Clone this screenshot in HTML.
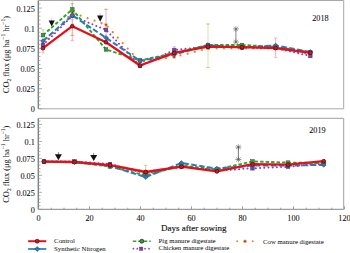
<!DOCTYPE html>
<html><head><meta charset="utf-8"><style>
html,body{margin:0;padding:0;background:#fff;}
svg{display:block;}
.t{font-family:"Liberation Serif",serif;font-size:8.2px;fill:#111;stroke:#111;stroke-width:0.08px;}
.t9{font-family:"Liberation Serif",serif;font-size:9px;fill:#111;stroke:#111;stroke-width:0.15px;}
.ty{font-family:"Liberation Serif",serif;font-size:8.4px;fill:#222;stroke:#222;stroke-width:0.05px;}
.tl{font-family:"Liberation Serif",serif;font-size:6.8px;fill:#1a1a1a;stroke:#1a1a1a;stroke-width:0.04px;}
</style></head><body>
<svg width="350" height="253" viewBox="0 0 350 253">
<path d="M38.5,0.5 H343.7 V108.8 H38.5" fill="none" stroke="#a8a8a8" stroke-width="1"/>
<path d="M38.5,118.3 H343.7 V209.3" fill="none" stroke="#a0a0a0" stroke-width="1"/>
<path d="M343.7,209.3 H38.5" fill="none" stroke="#858585" stroke-width="1"/>
<path d="M38.3,0.5 V108.8 M38.3,118.3 V209.3" fill="none" stroke="#808080" stroke-width="1.4"/>
<path d="M38.5,108.80h3.5M38.5,104.77h2M38.5,100.74h2M38.5,96.71h2M38.5,92.68h2M38.5,88.65h3.5M38.5,84.62h2M38.5,80.59h2M38.5,76.56h2M38.5,72.53h2M38.5,68.50h3.5M38.5,64.47h2M38.5,60.44h2M38.5,56.41h2M38.5,52.38h2M38.5,48.35h3.5M38.5,44.32h2M38.5,40.29h2M38.5,36.26h2M38.5,32.23h2M38.5,28.20h3.5M38.5,24.17h2M38.5,20.14h2M38.5,16.11h2M38.5,12.08h2M38.5,8.05h3.5M38.5,4.02h2" stroke="#999" stroke-width="0.8" fill="none"/>
<text x="34.8" y="112.30" text-anchor="end" class="t">0</text>
<text x="34.8" y="92.15" text-anchor="end" class="t">0.025</text>
<text x="34.8" y="72.00" text-anchor="end" class="t">0.05</text>
<text x="34.8" y="51.85" text-anchor="end" class="t">0.075</text>
<text x="34.8" y="31.70" text-anchor="end" class="t">0.1</text>
<text x="34.8" y="11.55" text-anchor="end" class="t">0.125</text>
<path d="M38.5,209.30h3.5M38.5,205.91h2M38.5,202.51h2M38.5,199.12h2M38.5,195.72h2M38.5,192.33h3.5M38.5,188.93h2M38.5,185.54h2M38.5,182.14h2M38.5,178.75h2M38.5,175.35h3.5M38.5,171.96h2M38.5,168.56h2M38.5,165.17h2M38.5,161.77h2M38.5,158.38h3.5M38.5,154.98h2M38.5,151.59h2M38.5,148.19h2M38.5,144.80h2M38.5,141.40h3.5M38.5,138.00h2M38.5,134.61h2M38.5,131.22h2M38.5,127.82h2M38.5,124.43h3.5M38.5,121.03h2" stroke="#999" stroke-width="0.8" fill="none"/>
<text x="34.8" y="212.80" text-anchor="end" class="t">0</text>
<text x="34.8" y="195.83" text-anchor="end" class="t">0.025</text>
<text x="34.8" y="178.85" text-anchor="end" class="t">0.05</text>
<text x="34.8" y="161.88" text-anchor="end" class="t">0.075</text>
<text x="34.8" y="144.90" text-anchor="end" class="t">0.1</text>
<text x="34.8" y="127.93" text-anchor="end" class="t">0.125</text>
<path d="M38.50,209.3v-3M51.25,209.3v-1.6M64.00,209.3v-1.6M76.75,209.3v-1.6M89.50,209.3v-3M102.25,209.3v-1.6M115.00,209.3v-1.6M127.75,209.3v-1.6M140.50,209.3v-3M153.25,209.3v-1.6M166.00,209.3v-1.6M178.75,209.3v-1.6M191.50,209.3v-3M204.25,209.3v-1.6M217.00,209.3v-1.6M229.75,209.3v-1.6M242.50,209.3v-3M255.25,209.3v-1.6M268.00,209.3v-1.6M280.75,209.3v-1.6M293.50,209.3v-3M306.25,209.3v-1.6M319.00,209.3v-1.6M331.75,209.3v-1.6M344.50,209.3v-3" stroke="#8a8a8a" stroke-width="0.8" fill="none"/>
<text x="38.50" y="220.8" text-anchor="middle" class="t">0</text>
<text x="89.50" y="220.8" text-anchor="middle" class="t">20</text>
<text x="140.50" y="220.8" text-anchor="middle" class="t">40</text>
<text x="191.50" y="220.8" text-anchor="middle" class="t">60</text>
<text x="242.50" y="220.8" text-anchor="middle" class="t">80</text>
<text x="293.50" y="220.8" text-anchor="middle" class="t">100</text>
<text x="344.50" y="220.8" text-anchor="middle" class="t">120</text>
<text x="193.7" y="231.1" text-anchor="middle" class="t9">Days after sowing</text>
<text x="328.6" y="20.9" text-anchor="end" class="t">2018</text>
<text x="325.6" y="132.6" text-anchor="end" class="t">2019</text>
<text transform="translate(9.2,54.6) rotate(-90)" text-anchor="middle" class="ty">CO<tspan font-size="5.5" dy="2">2</tspan><tspan dy="-2"> flux (μg ha</tspan><tspan font-size="5.5" dy="-3.8">−1</tspan><tspan dy="3.8"> hr</tspan><tspan font-size="5.5" dy="-3.8">−1</tspan><tspan dy="3.8">)</tspan></text>
<text transform="translate(9.2,164.2) rotate(-90)" text-anchor="middle" class="ty">CO<tspan font-size="5.5" dy="2">2</tspan><tspan dy="-2"> flux (μg ha</tspan><tspan font-size="5.5" dy="-3.8">−1</tspan><tspan dy="3.8"> hr</tspan><tspan font-size="5.5" dy="-3.8">−1</tspan><tspan dy="3.8">)</tspan></text>
<path d="M43,29.8V35.0M41.5,29.8h3M41.5,35.0h3" stroke="#9c9" stroke-width="0.8" fill="none"/>
<path d="M43,45V53.0M41.5,45h3M41.5,53.0h3" stroke="#f9a" stroke-width="0.8" fill="none"/>
<path d="M72.3,0.5V35.4" stroke="#f5c890" stroke-width="0.8" fill="none"/>
<path d="M72.3,3.5V9.4M70.8,3.5h3M70.8,9.4h3" stroke="#aaa" stroke-width="0.8" fill="none"/>
<path d="M72.3,19.8V40.5M70.8,19.8h3M70.8,40.5h3" stroke="#f9a" stroke-width="0.8" fill="none"/>
<path d="M72.3,35.4V35.4M70.8,35.4h3M70.8,35.4h3" stroke="#f0a040" stroke-width="0.8" fill="none"/>
<path d="M106,9.3V36.7" stroke="#d9c" stroke-width="0.8" fill="none"/>
<path d="M106,9.3V9.3M104.5,9.3h3M104.5,9.3h3" stroke="#f0a040" stroke-width="0.8" fill="none"/>
<path d="M208,24V67.6" stroke="#c8dca0" stroke-width="0.8" fill="none"/>
<path d="M208,24V24M206.5,24h3M206.5,24h3" stroke="#a8d0a0" stroke-width="0.8" fill="none"/>
<path d="M208,67.6V67.6M206.5,67.6h3M206.5,67.6h3" stroke="#f0b080" stroke-width="0.8" fill="none"/>
<path d="M235.9,28.9V42" stroke="#666" stroke-width="0.8" fill="none"/>
<path d="M232.9,28.9h6M235.9,26.099999999999998v5.6M233.6,26.9l4.6,4M233.6,30.9l4.6,-4" stroke="#666" stroke-width="0.6"/><circle cx="235.9" cy="28.9" r="0.7" fill="#666"/>
<path d="M232.9,42h6M235.9,39.2v5.6M233.6,40l4.6,4M233.6,44l4.6,-4" stroke="#666" stroke-width="0.6"/><circle cx="235.9" cy="42" r="0.7" fill="#666"/>
<path d="M275.6,38V57.4M274.1,38h3M274.1,57.4h3" stroke="#f9b" stroke-width="0.8" fill="none"/>
<path d="M140,62V68" stroke="#f9a" stroke-width="0.8" fill="none"/>
<path d="M174.3,46.8V56M172.8,46.8h3M172.8,56h3" stroke="#c9e" stroke-width="0.8" fill="none"/>
<path d="M58.4,152.2V155" stroke="#555" stroke-width="0.8" fill="none"/>
<path d="M93.7,153.2V155.5" stroke="#555" stroke-width="0.8" fill="none"/>
<path d="M51.7,18.4V21" stroke="#bbb" stroke-width="0.8" fill="none"/>
<path d="M100.2,13.5V16" stroke="#bbb" stroke-width="0.8" fill="none"/>
<path d="M145.7,165.4V176M144.2,165.4h3M144.2,176h3" stroke="#f0b070" stroke-width="0.8" fill="none"/>
<path d="M238.4,147.1V159.5" stroke="#555" stroke-width="0.8" fill="none"/>
<path d="M235.4,147.1h6M238.4,144.29999999999998v5.6M236.1,145.1l4.6,4M236.1,149.1l4.6,-4" stroke="#555" stroke-width="0.6"/><circle cx="238.4" cy="147.1" r="0.7" fill="#555"/>
<path d="M235.4,159.5h6M238.4,156.7v5.6M236.1,157.5l4.6,4M236.1,161.5l4.6,-4" stroke="#555" stroke-width="0.6"/><circle cx="238.4" cy="159.5" r="0.7" fill="#555"/>
<polyline points="43.0,44.0 72.3,12.6 106.0,24.8 140.0,62.0 174.3,57.0 208.0,48.5 242.0,48.5 275.6,48.5 310.3,54.0" fill="none" stroke="#f0801a" stroke-width="2.2" stroke-dasharray="0,7.4" stroke-linecap="round" stroke-linejoin="round"/>
<path d="M41.30,44.0h3.40M43,42.30v3.40M41.80,42.80l2.40,2.40M41.80,45.20l2.40,-2.40" stroke="#f0801a" stroke-width="1"/>
<circle cx="43" cy="44.0" r="0.80" fill="#733"/>
<path d="M70.60,12.6h3.40M72.3,10.90v3.40M71.10,11.40l2.40,2.40M71.10,13.80l2.40,-2.40" stroke="#f0801a" stroke-width="1"/>
<circle cx="72.3" cy="12.6" r="0.80" fill="#733"/>
<path d="M104.30,24.8h3.40M106,23.10v3.40M104.80,23.60l2.40,2.40M104.80,26.00l2.40,-2.40" stroke="#f0801a" stroke-width="1"/>
<circle cx="106" cy="24.8" r="0.80" fill="#733"/>
<path d="M138.30,62.0h3.40M140,60.30v3.40M138.80,60.80l2.40,2.40M138.80,63.20l2.40,-2.40" stroke="#f0801a" stroke-width="1"/>
<circle cx="140" cy="62.0" r="0.80" fill="#733"/>
<path d="M172.60,57.0h3.40M174.3,55.30v3.40M173.10,55.80l2.40,2.40M173.10,58.20l2.40,-2.40" stroke="#f0801a" stroke-width="1"/>
<circle cx="174.3" cy="57.0" r="0.80" fill="#733"/>
<path d="M206.30,48.5h3.40M208,46.80v3.40M206.80,47.30l2.40,2.40M206.80,49.70l2.40,-2.40" stroke="#f0801a" stroke-width="1"/>
<circle cx="208" cy="48.5" r="0.80" fill="#733"/>
<path d="M240.30,48.5h3.40M242,46.80v3.40M240.80,47.30l2.40,2.40M240.80,49.70l2.40,-2.40" stroke="#f0801a" stroke-width="1"/>
<circle cx="242" cy="48.5" r="0.80" fill="#733"/>
<path d="M273.90,48.5h3.40M275.6,46.80v3.40M274.40,47.30l2.40,2.40M274.40,49.70l2.40,-2.40" stroke="#f0801a" stroke-width="1"/>
<circle cx="275.6" cy="48.5" r="0.80" fill="#733"/>
<path d="M308.60,54.0h3.40M310.3,52.30v3.40M309.10,52.80l2.40,2.40M309.10,55.20l2.40,-2.40" stroke="#f0801a" stroke-width="1"/>
<circle cx="310.3" cy="54.0" r="0.80" fill="#733"/>
<polyline points="43.0,45.0 72.3,16.0 106.0,29.9 140.0,66.0 174.3,50.0 208.0,46.5 242.0,47.5 275.6,48.0 310.3,56.0" fill="none" stroke="#7f3cc0" stroke-width="2.0" stroke-dasharray="0,4.2" stroke-linecap="round" stroke-linejoin="round"/>
<rect x="41.20" y="43.20" width="3.60" height="3.60" fill="#7f3cc0" stroke="#444" stroke-width="0.5"/>
<rect x="70.50" y="14.20" width="3.60" height="3.60" fill="#7f3cc0" stroke="#444" stroke-width="0.5"/>
<rect x="104.20" y="28.10" width="3.60" height="3.60" fill="#7f3cc0" stroke="#444" stroke-width="0.5"/>
<rect x="138.20" y="64.20" width="3.60" height="3.60" fill="#7f3cc0" stroke="#444" stroke-width="0.5"/>
<rect x="172.50" y="48.20" width="3.60" height="3.60" fill="#7f3cc0" stroke="#444" stroke-width="0.5"/>
<rect x="206.20" y="44.70" width="3.60" height="3.60" fill="#7f3cc0" stroke="#444" stroke-width="0.5"/>
<rect x="240.20" y="45.70" width="3.60" height="3.60" fill="#7f3cc0" stroke="#444" stroke-width="0.5"/>
<rect x="273.80" y="46.20" width="3.60" height="3.60" fill="#7f3cc0" stroke="#444" stroke-width="0.5"/>
<rect x="308.50" y="54.20" width="3.60" height="3.60" fill="#7f3cc0" stroke="#444" stroke-width="0.5"/>
<polyline points="43.0,35.2 72.3,9.4 106.0,49.5 140.0,60.5 174.3,53.0 208.0,45.0 242.0,45.0 275.6,46.8 310.3,52.3" fill="none" stroke="#2aa52a" stroke-width="1.9" stroke-dasharray="3.5,2" stroke-linejoin="round"/>
<rect x="41.20" y="33.40" width="3.60" height="3.60" fill="#2aa52a" stroke="#444" stroke-width="0.5"/>
<rect x="70.50" y="7.60" width="3.60" height="3.60" fill="#2aa52a" stroke="#444" stroke-width="0.5"/>
<rect x="104.20" y="47.70" width="3.60" height="3.60" fill="#2aa52a" stroke="#444" stroke-width="0.5"/>
<rect x="138.20" y="58.70" width="3.60" height="3.60" fill="#2aa52a" stroke="#444" stroke-width="0.5"/>
<rect x="172.50" y="51.20" width="3.60" height="3.60" fill="#2aa52a" stroke="#444" stroke-width="0.5"/>
<rect x="206.20" y="43.20" width="3.60" height="3.60" fill="#2aa52a" stroke="#444" stroke-width="0.5"/>
<rect x="240.20" y="43.20" width="3.60" height="3.60" fill="#2aa52a" stroke="#444" stroke-width="0.5"/>
<rect x="273.80" y="45.00" width="3.60" height="3.60" fill="#2aa52a" stroke="#444" stroke-width="0.5"/>
<rect x="308.50" y="50.50" width="3.60" height="3.60" fill="#2aa52a" stroke="#444" stroke-width="0.5"/>
<polyline points="43.0,41.0 72.3,15.3 106.0,37.8 140.0,60.8 174.3,54.5 208.0,45.2 242.0,47.5 275.6,45.5 310.3,52.0" fill="none" stroke="#2f78be" stroke-width="2.0" stroke-dasharray="5.5,2.5" stroke-linejoin="round"/>
<path d="M43,38.60L45.40,41.0L43,43.40L40.60,41.0Z" fill="#2f78be" stroke="#335" stroke-width="0.5"/>
<path d="M72.3,12.90L74.70,15.3L72.3,17.70L69.90,15.3Z" fill="#2f78be" stroke="#335" stroke-width="0.5"/>
<path d="M106,35.40L108.40,37.8L106,40.20L103.60,37.8Z" fill="#2f78be" stroke="#335" stroke-width="0.5"/>
<path d="M140,58.40L142.40,60.8L140,63.20L137.60,60.8Z" fill="#2f78be" stroke="#335" stroke-width="0.5"/>
<path d="M174.3,52.10L176.70,54.5L174.3,56.90L171.90,54.5Z" fill="#2f78be" stroke="#335" stroke-width="0.5"/>
<path d="M208,42.80L210.40,45.2L208,47.60L205.60,45.2Z" fill="#2f78be" stroke="#335" stroke-width="0.5"/>
<path d="M242,45.10L244.40,47.5L242,49.90L239.60,47.5Z" fill="#2f78be" stroke="#335" stroke-width="0.5"/>
<path d="M275.6,43.10L278.00,45.5L275.6,47.90L273.20,45.5Z" fill="#2f78be" stroke="#335" stroke-width="0.5"/>
<path d="M310.3,49.60L312.70,52.0L310.3,54.40L307.90,52.0Z" fill="#2f78be" stroke="#335" stroke-width="0.5"/>
<polyline points="43.0,48.2 72.3,26.2 106.0,42.2 140.0,65.5 174.3,52.9 208.0,46.7 242.0,47.2 275.6,48.0 310.3,52.8" fill="none" stroke="#e3101a" stroke-width="2.3" stroke-linejoin="round"/>
<circle cx="43" cy="48.2" r="1.90" fill="#e3101a" stroke="#311" stroke-width="0.7"/>
<circle cx="72.3" cy="26.2" r="1.90" fill="#e3101a" stroke="#311" stroke-width="0.7"/>
<circle cx="106" cy="42.2" r="1.90" fill="#e3101a" stroke="#311" stroke-width="0.7"/>
<circle cx="140" cy="65.5" r="1.90" fill="#e3101a" stroke="#311" stroke-width="0.7"/>
<circle cx="174.3" cy="52.9" r="1.90" fill="#e3101a" stroke="#311" stroke-width="0.7"/>
<circle cx="208" cy="46.7" r="1.90" fill="#e3101a" stroke="#311" stroke-width="0.7"/>
<circle cx="242" cy="47.2" r="1.90" fill="#e3101a" stroke="#311" stroke-width="0.7"/>
<circle cx="275.6" cy="48.0" r="1.90" fill="#e3101a" stroke="#311" stroke-width="0.7"/>
<circle cx="310.3" cy="52.8" r="1.90" fill="#e3101a" stroke="#311" stroke-width="0.7"/>
<polyline points="44.0,161.6 74.5,162.0 110.0,164.8 145.7,171.5 181.4,167.5 216.9,169.8 252.5,165.0 288.0,164.5 323.7,162.5" fill="none" stroke="#f0801a" stroke-width="2.2" stroke-dasharray="0,7.4" stroke-linecap="round" stroke-linejoin="round"/>
<path d="M42.30,161.6h3.40M44,159.90v3.40M42.80,160.40l2.40,2.40M42.80,162.80l2.40,-2.40" stroke="#f0801a" stroke-width="1"/>
<circle cx="44" cy="161.6" r="0.80" fill="#733"/>
<path d="M72.80,162.0h3.40M74.5,160.30v3.40M73.30,160.80l2.40,2.40M73.30,163.20l2.40,-2.40" stroke="#f0801a" stroke-width="1"/>
<circle cx="74.5" cy="162.0" r="0.80" fill="#733"/>
<path d="M108.30,164.8h3.40M110,163.10v3.40M108.80,163.60l2.40,2.40M108.80,166.00l2.40,-2.40" stroke="#f0801a" stroke-width="1"/>
<circle cx="110" cy="164.8" r="0.80" fill="#733"/>
<path d="M144.00,171.5h3.40M145.7,169.80v3.40M144.50,170.30l2.40,2.40M144.50,172.70l2.40,-2.40" stroke="#f0801a" stroke-width="1"/>
<circle cx="145.7" cy="171.5" r="0.80" fill="#733"/>
<path d="M179.70,167.5h3.40M181.4,165.80v3.40M180.20,166.30l2.40,2.40M180.20,168.70l2.40,-2.40" stroke="#f0801a" stroke-width="1"/>
<circle cx="181.4" cy="167.5" r="0.80" fill="#733"/>
<path d="M215.20,169.8h3.40M216.9,168.10v3.40M215.70,168.60l2.40,2.40M215.70,171.00l2.40,-2.40" stroke="#f0801a" stroke-width="1"/>
<circle cx="216.9" cy="169.8" r="0.80" fill="#733"/>
<path d="M250.80,165.0h3.40M252.5,163.30v3.40M251.30,163.80l2.40,2.40M251.30,166.20l2.40,-2.40" stroke="#f0801a" stroke-width="1"/>
<circle cx="252.5" cy="165.0" r="0.80" fill="#733"/>
<path d="M286.30,164.5h3.40M288,162.80v3.40M286.80,163.30l2.40,2.40M286.80,165.70l2.40,-2.40" stroke="#f0801a" stroke-width="1"/>
<circle cx="288" cy="164.5" r="0.80" fill="#733"/>
<path d="M322.00,162.5h3.40M323.7,160.80v3.40M322.50,161.30l2.40,2.40M322.50,163.70l2.40,-2.40" stroke="#f0801a" stroke-width="1"/>
<circle cx="323.7" cy="162.5" r="0.80" fill="#733"/>
<polyline points="44.0,161.6 74.5,161.5 110.0,164.0 145.7,173.5 181.4,166.5 216.9,170.5 252.5,168.3 288.0,166.8 323.7,163.5" fill="none" stroke="#7f3cc0" stroke-width="2.0" stroke-dasharray="0,4.2" stroke-linecap="round" stroke-linejoin="round"/>
<rect x="42.20" y="159.80" width="3.60" height="3.60" fill="#7f3cc0" stroke="#444" stroke-width="0.5"/>
<rect x="72.70" y="159.70" width="3.60" height="3.60" fill="#7f3cc0" stroke="#444" stroke-width="0.5"/>
<rect x="108.20" y="162.20" width="3.60" height="3.60" fill="#7f3cc0" stroke="#444" stroke-width="0.5"/>
<rect x="143.90" y="171.70" width="3.60" height="3.60" fill="#7f3cc0" stroke="#444" stroke-width="0.5"/>
<rect x="179.60" y="164.70" width="3.60" height="3.60" fill="#7f3cc0" stroke="#444" stroke-width="0.5"/>
<rect x="215.10" y="168.70" width="3.60" height="3.60" fill="#7f3cc0" stroke="#444" stroke-width="0.5"/>
<rect x="250.70" y="166.50" width="3.60" height="3.60" fill="#7f3cc0" stroke="#444" stroke-width="0.5"/>
<rect x="286.20" y="165.00" width="3.60" height="3.60" fill="#7f3cc0" stroke="#444" stroke-width="0.5"/>
<rect x="321.90" y="161.70" width="3.60" height="3.60" fill="#7f3cc0" stroke="#444" stroke-width="0.5"/>
<polyline points="44.0,161.6 74.5,162.0 110.0,166.5 145.7,175.5 181.4,165.5 216.9,169.5 252.5,161.4 288.0,162.6 323.7,163.0" fill="none" stroke="#2aa52a" stroke-width="1.9" stroke-dasharray="3.5,2" stroke-linejoin="round"/>
<rect x="42.20" y="159.80" width="3.60" height="3.60" fill="#2aa52a" stroke="#444" stroke-width="0.5"/>
<rect x="72.70" y="160.20" width="3.60" height="3.60" fill="#2aa52a" stroke="#444" stroke-width="0.5"/>
<rect x="108.20" y="164.70" width="3.60" height="3.60" fill="#2aa52a" stroke="#444" stroke-width="0.5"/>
<rect x="143.90" y="173.70" width="3.60" height="3.60" fill="#2aa52a" stroke="#444" stroke-width="0.5"/>
<rect x="179.60" y="163.70" width="3.60" height="3.60" fill="#2aa52a" stroke="#444" stroke-width="0.5"/>
<rect x="215.10" y="167.70" width="3.60" height="3.60" fill="#2aa52a" stroke="#444" stroke-width="0.5"/>
<rect x="250.70" y="159.60" width="3.60" height="3.60" fill="#2aa52a" stroke="#444" stroke-width="0.5"/>
<rect x="286.20" y="160.80" width="3.60" height="3.60" fill="#2aa52a" stroke="#444" stroke-width="0.5"/>
<rect x="321.90" y="161.20" width="3.60" height="3.60" fill="#2aa52a" stroke="#444" stroke-width="0.5"/>
<polyline points="44.0,161.6 74.5,162.0 110.0,166.0 145.7,177.1 181.4,163.0 216.9,168.6 252.5,165.5 288.0,165.5 323.7,164.9" fill="none" stroke="#2f78be" stroke-width="2.0" stroke-dasharray="5.5,2.5" stroke-linejoin="round"/>
<path d="M44,159.20L46.40,161.6L44,164.00L41.60,161.6Z" fill="#2f78be" stroke="#335" stroke-width="0.5"/>
<path d="M74.5,159.60L76.90,162.0L74.5,164.40L72.10,162.0Z" fill="#2f78be" stroke="#335" stroke-width="0.5"/>
<path d="M110,163.60L112.40,166.0L110,168.40L107.60,166.0Z" fill="#2f78be" stroke="#335" stroke-width="0.5"/>
<path d="M145.7,174.70L148.10,177.1L145.7,179.50L143.30,177.1Z" fill="#2f78be" stroke="#335" stroke-width="0.5"/>
<path d="M181.4,160.60L183.80,163.0L181.4,165.40L179.00,163.0Z" fill="#2f78be" stroke="#335" stroke-width="0.5"/>
<path d="M216.9,166.20L219.30,168.6L216.9,171.00L214.50,168.6Z" fill="#2f78be" stroke="#335" stroke-width="0.5"/>
<path d="M252.5,163.10L254.90,165.5L252.5,167.90L250.10,165.5Z" fill="#2f78be" stroke="#335" stroke-width="0.5"/>
<path d="M288,163.10L290.40,165.5L288,167.90L285.60,165.5Z" fill="#2f78be" stroke="#335" stroke-width="0.5"/>
<path d="M323.7,162.50L326.10,164.9L323.7,167.30L321.30,164.9Z" fill="#2f78be" stroke="#335" stroke-width="0.5"/>
<polyline points="44.0,161.6 74.5,162.0 110.0,165.1 145.7,172.0 181.4,166.7 216.9,171.4 252.5,164.2 288.0,164.6 323.7,161.2" fill="none" stroke="#e3101a" stroke-width="2.3" stroke-linejoin="round"/>
<circle cx="44" cy="161.6" r="1.90" fill="#e3101a" stroke="#311" stroke-width="0.7"/>
<circle cx="74.5" cy="162.0" r="1.90" fill="#e3101a" stroke="#311" stroke-width="0.7"/>
<circle cx="110" cy="165.1" r="1.90" fill="#e3101a" stroke="#311" stroke-width="0.7"/>
<circle cx="145.7" cy="172.0" r="1.90" fill="#e3101a" stroke="#311" stroke-width="0.7"/>
<circle cx="181.4" cy="166.7" r="1.90" fill="#e3101a" stroke="#311" stroke-width="0.7"/>
<circle cx="216.9" cy="171.4" r="1.90" fill="#e3101a" stroke="#311" stroke-width="0.7"/>
<circle cx="252.5" cy="164.2" r="1.90" fill="#e3101a" stroke="#311" stroke-width="0.7"/>
<circle cx="288" cy="164.6" r="1.90" fill="#e3101a" stroke="#311" stroke-width="0.7"/>
<circle cx="323.7" cy="161.2" r="1.90" fill="#e3101a" stroke="#311" stroke-width="0.7"/>
<path d="M48.60,20.6H54.80L51.7,26.6Z" fill="#111"/>
<path d="M97.05,15.4H103.35L100.2,21.7Z" fill="#111"/>
<path d="M54.90,154.3H61.90L58.4,160.3Z" fill="#111"/>
<path d="M90.20,155.0H97.20L93.7,161.0Z" fill="#111"/>
<line x1="28.1" y1="241.2" x2="46.3" y2="241.2" stroke="#e3101a" stroke-width="1.95"/>
<circle cx="37.2" cy="241.2" r="1.99" fill="#e3101a" stroke="#311" stroke-width="0.7"/>
<text x="54.1" y="242.9" class="tl">Control</text>
<line x1="28.1" y1="249.0" x2="46.3" y2="249.0" stroke="#2f78be" stroke-width="1.70"/>
<path d="M37.2,246.48L39.72,249.0L37.2,251.52L34.68,249.0Z" fill="#2f78be" stroke="#335" stroke-width="0.5"/>
<text x="54.1" y="251.3" class="tl">Synthetic Nitrogen</text>
<line x1="132.8" y1="241.2" x2="150.8" y2="241.2" stroke="#2aa52a" stroke-width="1.61" stroke-dasharray="3.5,2"/>
<circle cx="141.8" cy="241.2" r="1.99" fill="#2aa52a" stroke="#311" stroke-width="0.7"/>
<text x="158.6" y="243.2" class="tl">Pig manure digestate</text>
<line x1="133.4" y1="248.7" x2="149.0" y2="248.7" stroke="#7f3cc0" stroke-width="1.70" stroke-dasharray="0,3.9" stroke-linecap="round"/>
<rect x="139.58" y="247.08" width="3.24" height="3.24" fill="#7f3cc0" stroke="#444" stroke-width="0.5"/>
<text x="158.6" y="250.4" class="tl">Chicken manure digestate</text>
<line x1="237.2" y1="241.3" x2="252.8" y2="241.3" stroke="#f0801a" stroke-width="1.87" stroke-dasharray="0,7.8" stroke-linecap="round"/>
<path d="M243.22,241.3h3.57M245.0,239.52v3.57M243.74,240.04l2.52,2.52M243.74,242.56l2.52,-2.52" stroke="#f0801a" stroke-width="1"/>
<circle cx="245.0" cy="241.3" r="0.84" fill="#733"/>
<text x="263.0" y="243.8" class="tl">Cow manure digestate</text>
</svg></body></html>
